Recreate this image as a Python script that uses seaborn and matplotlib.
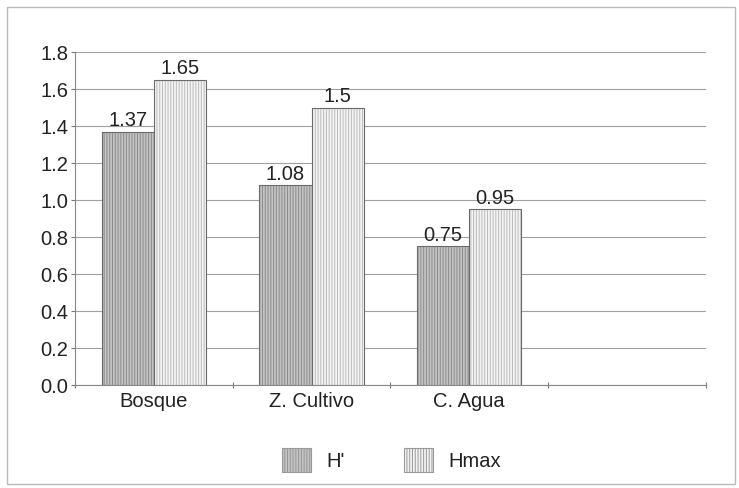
import matplotlib
matplotlib.use("Agg")
import matplotlib.pyplot as plt
import seaborn as sns
import pandas as pd
from matplotlib.patches import Rectangle
from matplotlib.colors import to_rgba
from matplotlib.ticker import FixedLocator, NullFormatter

categories = ["Bosque", "Z. Cultivo", "C. Agua"]
h_prime = [1.37, 1.08, 0.75]
h_max = [1.65, 1.5, 0.95]
series_names = ["H'", "Hmax"]
y_ticks = [0.0, 0.2, 0.4, 0.6, 0.8, 1.0, 1.2, 1.4, 1.6, 1.8]

df = pd.DataFrame({
    "cat": categories * 2,
    "val": h_prime + h_max,
    "serie": [series_names[0]] * 3 + [series_names[1]] * 3,
})

sns.set_theme(style="white")
plt.rcParams["font.family"] = ["Liberation Sans", "DejaVu Sans"]
plt.rcParams["hatch.linewidth"] = 0.7

FS = 14.5
fig = plt.figure(figsize=(7.39, 4.88), dpi=100)
ax = fig.add_axes([0.1015, 0.211, 0.8535, 0.6824])

palette = {"H'": "#c2c2c2", "Hmax": "#f3f3f3"}
sns.barplot(data=df, x="cat", y="val", hue="serie", order=categories,
            hue_order=series_names, palette=palette, width=0.66,
            edgecolor="#6a6a6a", linewidth=0.8, saturation=1, ax=ax,
            legend=False, zorder=3)

hatches = ["||||||", "||||||"]
hatch_cols = ["#8e8e8e", "#bdbdbd"]
for i, cont in enumerate(ax.containers):
    for b in cont:
        b.set_hatch(hatches[i])
        b._hatch_color = to_rgba(hatch_cols[i])
    ax.bar_label(cont, fmt="%g", fontsize=FS, padding=1, color="#222222")

ax.set_xlim(-0.5, 3.5)
ax.set_ylim(0, 1.8)
ax.set_yticks(y_ticks)
ax.set_yticklabels([f"{t:.1f}" for t in y_ticks], fontsize=FS, color="#222222")
ax.set_xticks(range(len(categories)))
ax.set_xticklabels(categories, fontsize=FS, color="#222222")
ax.tick_params(axis="x", which="major", length=0, pad=5)
ax.xaxis.set_minor_locator(FixedLocator([-0.5, 0.5, 1.5, 2.5, 3.5]))
ax.xaxis.set_minor_formatter(NullFormatter())
ax.tick_params(axis="x", which="minor", length=4, direction="inout", color="#777777", width=0.8, bottom=True)
ax.tick_params(axis="y", length=3, color="#777777", width=0.8, left=True, pad=2)
ax.set_xlabel("")
ax.set_ylabel("")

ax.yaxis.grid(True, color="#a0a0a0", linewidth=0.8, zorder=0)
ax.set_axisbelow(True)
for s in ["top", "right"]:
    ax.spines[s].set_visible(False)
for s in ["left", "bottom"]:
    ax.spines[s].set_color("#888888")
    ax.spines[s].set_linewidth(0.8)

handles = [cont[0] for cont in ax.containers]
leg = ax.legend(handles, series_names, loc="center", bbox_to_anchor=(0.502, -0.225), ncol=2,
                frameon=False, fontsize=FS, handlelength=1.45, handleheight=1.45,
                columnspacing=2.95, handletextpad=0.75)
for t in leg.get_texts():
    t.set_color("#222222")
for h in leg.legend_handles:
    h.set_edgecolor("#999999")

fig.patches.append(Rectangle((0.009, 0.008), 0.985, 0.978, transform=fig.transFigure,
                             fill=False, edgecolor="#bbbbbb", linewidth=1.0))

fig.savefig("out.png", dpi=100)
